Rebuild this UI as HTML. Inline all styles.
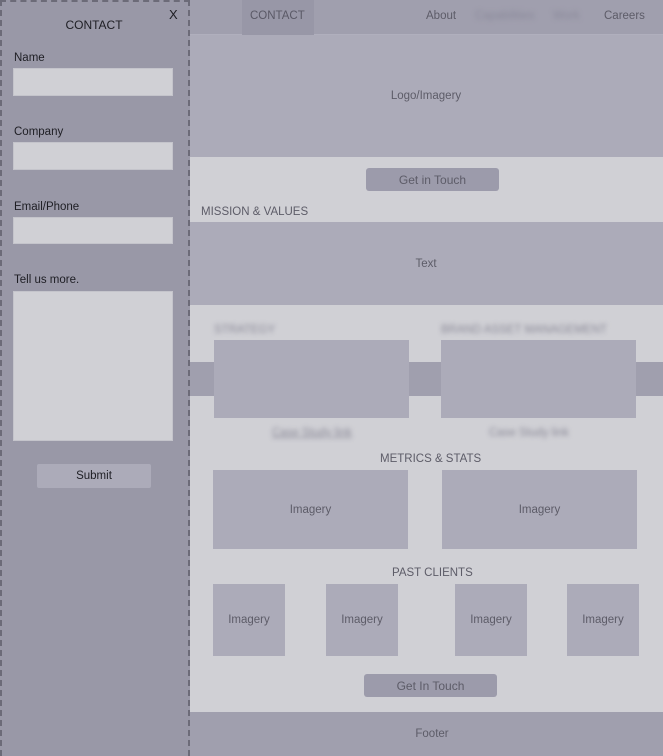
<!DOCTYPE html>
<html><head><meta charset="utf-8"><style>
*{margin:0;padding:0;box-sizing:border-box}
body{width:663px;height:756px;position:relative;overflow:hidden;background:#d0d0d5;font-family:"Liberation Sans",sans-serif;}
.a{position:absolute}
.t{position:absolute;white-space:nowrap;font-size:11.5px;color:#5d5c68}
.box{position:absolute;background:#acabb9;color:#5d5c68;font-size:11.5px;display:flex;align-items:center;justify-content:center}
.blur{filter:blur(2.5px)}
.inp{position:absolute;left:13px;width:160px;background:#d0d0d5;border:1px solid #c4c4cb}
.lbl{position:absolute;left:14px;font-size:11.5px;color:#1e1e24}
</style></head><body>
<div class="a" style="left:0;top:0;width:663px;height:35px;background:#a09fae;border-bottom:1px solid #b0afbd"></div>
<div class="a" style="left:242px;top:0;width:72px;height:35px;background:#9897a7"></div>
<div class="t" style="left:250px;top:10px;color:#5a5966">CONTACT</div>
<div class="t" style="left:426px;top:10px">About</div>
<div class="t blur" style="left:475px;top:10px;color:#8a899a">Capabilities</div>
<div class="t blur" style="left:553px;top:10px;color:#8a899a">Work</div>
<div class="t" style="left:604px;top:10px">Careers</div>
<div class="a" style="left:0;top:35px;width:663px;height:122px;background:#acabb9"></div>
<div class="box" style="left:189px;top:35px;width:474px;height:122px;background:transparent">Logo/Imagery</div>
<div class="box" style="left:366px;top:168px;width:133px;height:23px;background:#9c9bab;border-radius:3px;font-size:12px">Get in Touch</div>
<div class="t" style="left:201px;top:206px">MISSION &amp; VALUES</div>
<div class="box" style="left:189px;top:222px;width:474px;height:83px">Text</div>
<div class="a" style="left:189px;top:362px;width:474px;height:34px;background:#a09fae"></div>
<div class="t blur" style="left:214px;top:324px;color:#8a8997">STRATEGY</div>
<div class="t blur" style="left:441px;top:324px;color:#8a8997">BRAND ASSET MANAGEMENT</div>
<div class="box" style="left:214px;top:340px;width:195px;height:78px"></div>
<div class="box" style="left:441px;top:340px;width:195px;height:78px"></div>
<div class="t blur" style="left:272px;top:427px;color:#8a8997;text-decoration:underline">Case Study link</div>
<div class="t blur" style="left:489px;top:427px;color:#8a8997">Case Study link</div>
<div class="t" style="left:380px;top:453px">METRICS &amp; STATS</div>
<div class="box" style="left:213px;top:470px;width:195px;height:79px">Imagery</div>
<div class="box" style="left:442px;top:470px;width:195px;height:79px">Imagery</div>
<div class="t" style="left:392px;top:567px">PAST CLIENTS</div>
<div class="box" style="left:213px;top:584px;width:72px;height:72px">Imagery</div>
<div class="box" style="left:326px;top:584px;width:72px;height:72px">Imagery</div>
<div class="box" style="left:455px;top:584px;width:72px;height:72px">Imagery</div>
<div class="box" style="left:567px;top:584px;width:72px;height:72px">Imagery</div>
<div class="box" style="left:364px;top:674px;width:133px;height:23px;background:#9c9bab;border-radius:3px;font-size:12px">Get In Touch</div>
<div class="box" style="left:189px;top:712px;width:474px;height:44px;background:#a09fae;padding-left:12px">Footer</div>
<div class="a" style="left:0;top:0;width:190px;height:756px;background:#9998a7;border:2px dashed #6c6b78;border-bottom:none"></div>
<div class="a" style="left:0;top:18px;width:188px;text-align:center;font-size:12px;color:#1e1e24">CONTACT</div>
<div class="a" style="left:169px;top:7px;font-size:13px;color:#1e1e24">X</div>
<div class="lbl" style="top:52px">Name</div>
<div class="inp" style="top:68px;height:28px"></div>
<div class="lbl" style="top:126px">Company</div>
<div class="inp" style="top:142px;height:28px"></div>
<div class="lbl" style="top:201px">Email/Phone</div>
<div class="inp" style="top:217px;height:27px"></div>
<div class="lbl" style="top:274px">Tell us more.</div>
<div class="inp" style="top:291px;height:150px"></div>
<div class="a" style="left:37px;top:464px;width:114px;height:24px;background:#acabb9;border-radius:2px;font-size:11.5px;color:#1e1e24;display:flex;align-items:center;justify-content:center">Submit</div>
</body></html>
